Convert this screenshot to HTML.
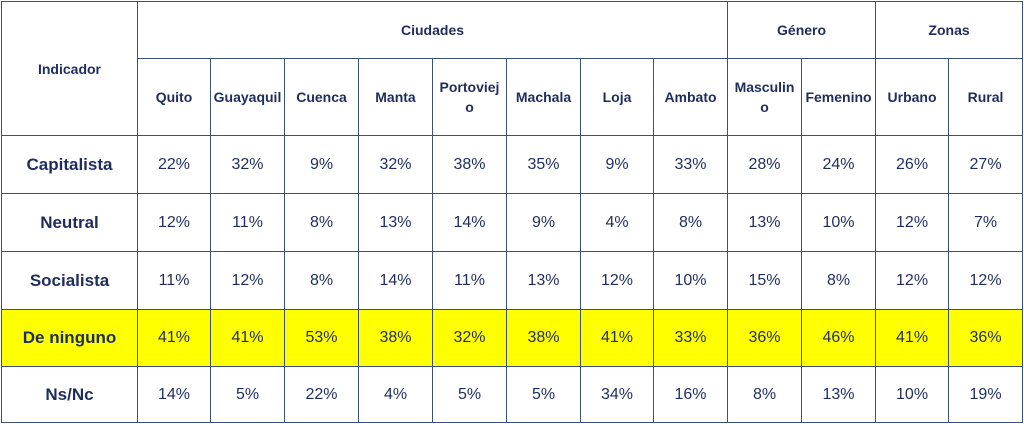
<!DOCTYPE html>
<html><head><meta charset="utf-8"><style>
body{margin:0;background:#fff;width:1024px;height:424px;overflow:hidden}
table{position:absolute;left:1px;top:1px;border-collapse:collapse;table-layout:fixed;width:1022px;font-family:"Liberation Sans",Arial,sans-serif;color:#1f2d5e}
td{border:1.5px solid #3b4f80;text-align:center;vertical-align:middle;padding:0;font-size:16px}
.h{font-weight:bold;font-size:14px;line-height:20px}
.l{font-weight:bold;font-size:17px}
tr.y td{background:#ffff00}
</style></head><body>
<table>
<colgroup><col style="width:136px"><col style="width:73px"><col style="width:74px"><col style="width:74px"><col style="width:74px"><col style="width:74px"><col style="width:74px"><col style="width:73px"><col style="width:74px"><col style="width:74px"><col style="width:74px"><col style="width:73px"><col style="width:74px"></colgroup>
<tr style="height:57px"><td class="h" rowspan="2">Indicador</td><td class="h" colspan="8">Ciudades</td><td class="h" colspan="2">Género</td><td class="h" colspan="2">Zonas</td></tr>
<tr style="height:77px"><td class="h">Quito</td><td class="h">Guayaquil</td><td class="h">Cuenca</td><td class="h">Manta</td><td class="h">Portoviej<br>o</td><td class="h">Machala</td><td class="h">Loja</td><td class="h">Ambato</td><td class="h">Masculin<br>o</td><td class="h">Femenino</td><td class="h">Urbano</td><td class="h">Rural</td></tr>
<tr style="height:58px"><td class="l">Capitalista</td><td>22%</td><td>32%</td><td>9%</td><td>32%</td><td>38%</td><td>35%</td><td>9%</td><td>33%</td><td>28%</td><td>24%</td><td>26%</td><td>27%</td></tr>
<tr style="height:58px"><td class="l">Neutral</td><td>12%</td><td>11%</td><td>8%</td><td>13%</td><td>14%</td><td>9%</td><td>4%</td><td>8%</td><td>13%</td><td>10%</td><td>12%</td><td>7%</td></tr>
<tr style="height:58px"><td class="l">Socialista</td><td>11%</td><td>12%</td><td>8%</td><td>14%</td><td>11%</td><td>13%</td><td>12%</td><td>10%</td><td>15%</td><td>8%</td><td>12%</td><td>12%</td></tr>
<tr class="y" style="height:57px"><td class="l">De ninguno</td><td>41%</td><td>41%</td><td>53%</td><td>38%</td><td>32%</td><td>38%</td><td>41%</td><td>33%</td><td>36%</td><td>46%</td><td>41%</td><td>36%</td></tr>
<tr style="height:56px"><td class="l">Ns/Nc</td><td>14%</td><td>5%</td><td>22%</td><td>4%</td><td>5%</td><td>5%</td><td>34%</td><td>16%</td><td>8%</td><td>13%</td><td>10%</td><td>19%</td></tr>
</table>
</body></html>
